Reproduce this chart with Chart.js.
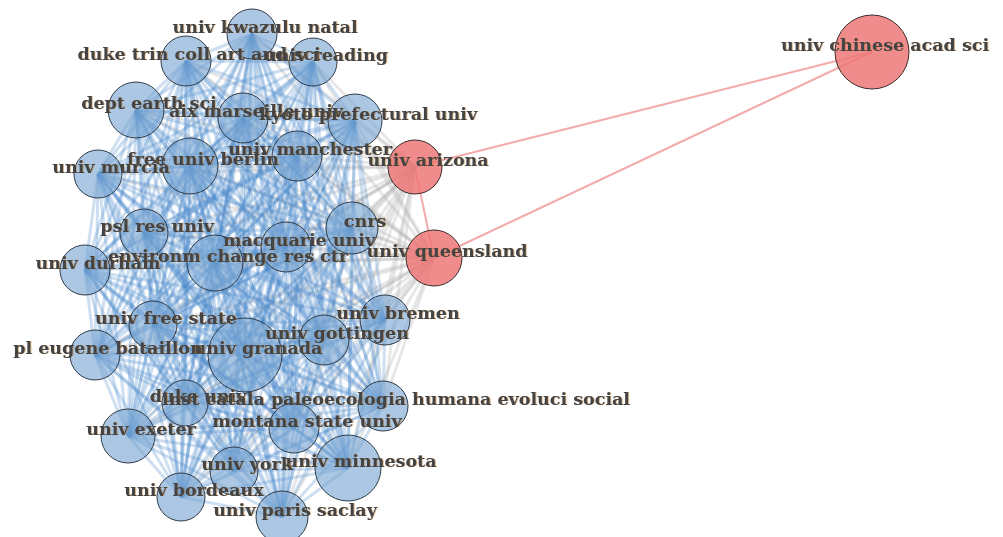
<!DOCTYPE html>
<html>
<head>
<meta charset="utf-8">
<script src="https://cdn.jsdelivr.net/npm/chart.js@4.4.1/dist/chart.umd.min.js"></script>
<style>
  html, body { margin: 0; padding: 0; background: #fff; }
  #wrap { width: 1003px; height: 537px; }
</style>
</head>
<body>
<div id="wrap"><canvas id="myChart" width="1003" height="537"></canvas></div>
<script>
// collaboration network: institutions, layout position, node size, cluster
var nodeNames = [
    "univ kwazulu natal", "duke trin coll art and sci", "univ reading", "dept earth sci",
    "aix marseille univ", "kyoto prefectural univ", "free univ berlin", "univ manchester",
    "univ murcia", "cnrs", "psl res univ", "macquarie univ", "environm change res ctr",
    "univ durham", "univ bremen", "univ free state", "univ gottingen", "univ granada",
    "pl eugene bataillon", "duke univ", "inst catala paleoecologia humana evoluci social",
    "montana state univ", "univ exeter", "univ minnesota", "univ york", "univ bordeaux",
    "univ paris saclay", "univ arizona", "univ queensland", "univ chinese acad sci"
];
var nodeX = [252, 186, 313, 136, 243, 355, 190, 297, 98, 352, 144, 286, 215, 85, 385, 153,
    324, 245, 95, 185, 383, 294, 128, 348, 234, 181, 282, 415, 434, 872];
var nodeY = [34, 61, 62, 110, 118, 121, 166, 156, 174, 228, 233, 247, 263, 270, 320, 325,
    340, 355, 355, 403, 406, 428, 436, 468, 471, 497, 517, 167, 258, 52];
var nodeSize = [25, 25, 24, 28, 25, 27, 28, 25, 24, 26, 24, 25, 28, 25, 25, 24,
    25, 37, 25, 23, 25, 25, 27, 33, 24, 24, 26, 27, 28, 37];
var nodeGroup = [1, 1, 1, 1, 1, 1, 1, 1, 1, 1, 1, 1, 1, 1, 1, 1,
    1, 1, 1, 1, 1, 1, 1, 1, 1, 1, 1, 2, 2, 2];

function points(group) {
    var out = [];
    for (var i = 0; i < nodeNames.length; i++) {
        if (nodeGroup[i] === group) {
            out.push({ x: nodeX[i], y: nodeY[i], r: nodeSize[i], name: nodeNames[i] });
        }
    }
    return out;
}

// edges: cluster 1 fully linked, the two bridge nodes linked to cluster 1, red triangle
var edges = [];
for (var i = 0; i < nodeNames.length; i++) {
    for (var j = i + 1; j < nodeNames.length; j++) {
        if (nodeGroup[i] === 1 && nodeGroup[j] === 1) edges.push([i, j, 'blue']);
        else if (nodeGroup[i] === 1 && (j === 27 || j === 28)) edges.push([i, j, 'grey']);
        else if (nodeGroup[i] === 2 && nodeGroup[j] === 2) edges.push([i, j, 'red']);
    }
}
var edgeColors = {
    blue: 'rgba(65, 130, 200, 0.26)',
    grey: 'rgba(175, 175, 175, 0.3)',
    red: 'rgba(240, 150, 150, 0.8)'
};

var edgePlugin = {
    id: 'edges',
    beforeDatasetsDraw: function (chart) {
        var c = chart.ctx, xs = chart.scales.x, ys = chart.scales.y;
        c.save();
        ['grey', 'blue', 'red'].forEach(function (kind) {
            c.strokeStyle = edgeColors[kind];
            c.lineWidth = kind === 'red' ? 2 : 3;
            edges.forEach(function (e) {
                if (e[2] !== kind) return;
                c.beginPath();
                c.moveTo(xs.getPixelForValue(nodeX[e[0]]), ys.getPixelForValue(nodeY[e[0]]));
                c.lineTo(xs.getPixelForValue(nodeX[e[1]]), ys.getPixelForValue(nodeY[e[1]]));
                c.stroke();
            });
        });
        c.restore();
    }
};

var labelPlugin = {
    id: 'labels',
    afterDatasetsDraw: function (chart) {
        var c = chart.ctx, xs = chart.scales.x, ys = chart.scales.y;
        c.save();
        c.font = 'bold 17.5px "DejaVu Serif"';
        c.textAlign = 'center';
        c.textBaseline = 'middle';
        c.shadowColor = 'rgba(200, 130, 50, 0.5)';
        c.shadowOffsetX = 1;
        c.shadowOffsetY = 0;
        c.fillStyle = '#444444';
        for (var i = 0; i < nodeNames.length; i++) {
            c.fillText(nodeNames[i], xs.getPixelForValue(nodeX[i]) + 13, ys.getPixelForValue(nodeY[i]) - 6);
        }
        c.restore();
    }
};

var ctx = document.getElementById('myChart').getContext('2d');
var myChart = new Chart(ctx, {
    type: 'bubble',
    data: {
        datasets: [{
            data: points(1),
            backgroundColor: 'rgba(120, 165, 210, 0.62)',
            borderColor: '#2f3b48',
            borderWidth: 1,
            clip: false
        }, {
            data: points(2),
            backgroundColor: 'rgba(238, 120, 120, 0.85)',
            borderColor: '#3a2a2a',
            borderWidth: 1,
            clip: false
        }]
    },
    options: {
        responsive: false,
        animation: false,
        events: [],
        layout: { padding: 0, autoPadding: false },
        plugins: {
            legend: { display: false },
            tooltip: { enabled: false }
        },
        scales: {
            x: { display: false, min: 0, max: 1003 },
            y: { display: false, min: 0, max: 537, reverse: true }
        }
    },
    plugins: [edgePlugin, labelPlugin]
});
</script>
</body>
</html>
